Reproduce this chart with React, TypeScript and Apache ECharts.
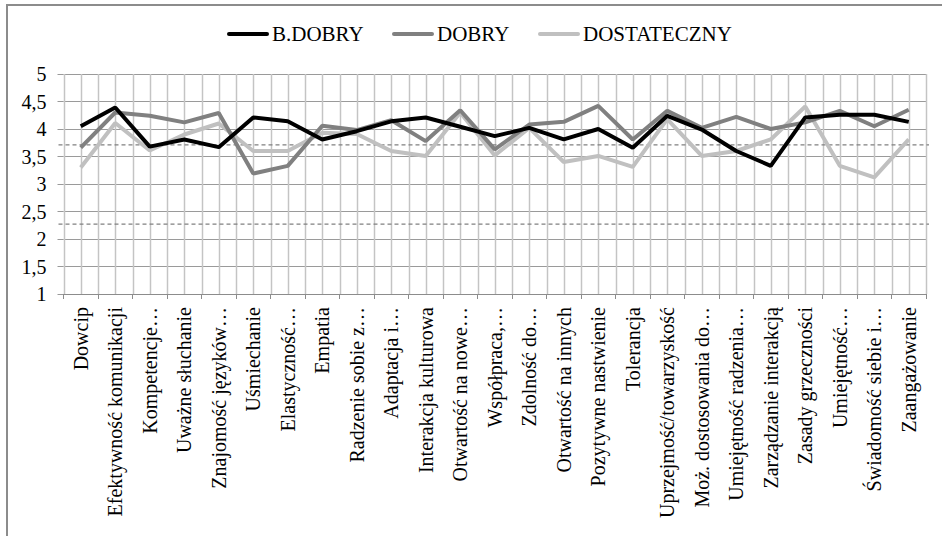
import React, { useEffect, useRef } from "react";
import * as echarts from "echarts";

const categories = [
  "Dowcip",
  "Efektywność komunikacji",
  "Kompetencje…",
  "Uważne słuchanie",
  "Znajomość języków…",
  "Uśmiechanie",
  "Elastyczność…",
  "Empatia",
  "Radzenie sobie z…",
  "Adaptacja i…",
  "Interakcja kulturowa",
  "Otwartość na nowe…",
  "Współpraca,…",
  "Zdolność do…",
  "Otwartość na innych",
  "Pozytywne nastwienie",
  "Tolerancja",
  "Uprzejmość/towarzyskość",
  "Moż. dostosowania do…",
  "Umiejętność radzenia…",
  "Zarządzanie interakcją",
  "Zasady grzeczności",
  "Umiejętność…",
  "Świadomość siebie i…",
  "Zaangażowanie",
];

const bDobry = [4.05, 4.39, 3.68, 3.81, 3.67, 4.21, 4.14, 3.81, 3.96, 4.14, 4.21, 4.04, 3.87, 4.02, 3.81, 4.0, 3.66, 4.24, 3.99, 3.6, 3.33, 4.21, 4.26, 4.26, 4.13];
const dobry = [3.66, 4.3, 4.24, 4.12, 4.29, 3.19, 3.33, 4.06, 3.98, 4.16, 3.78, 4.34, 3.63, 4.08, 4.13, 4.42, 3.81, 4.33, 4.02, 4.22, 4.0, 4.12, 4.33, 4.05, 4.35];
const dostateczny = [3.3, 4.11, 3.61, 3.9, 4.1, 3.6, 3.6, 3.93, 3.91, 3.6, 3.51, 4.3, 3.52, 4.02, 3.4, 3.51, 3.31, 4.18, 3.51, 3.6, 3.81, 4.41, 3.33, 3.12, 3.81];

const refLines = [3.71, 2.27];

const seriesNames = ["B.DOBRY", "DOBRY", "DOSTATECZNY"];
const seriesColors = ["#000000", "#808080", "#c0c0c0"];
const legendX = [227, 392, 538];

const FONT = "Liberation Serif";

export default function App() {
  const ref = useRef<HTMLDivElement>(null);
  useEffect(() => {
    if (!ref.current) return;
    const chart = echarts.init(ref.current, null, { renderer: "svg" });
    const dataSets = [bDobry, dobry, dostateczny];
    chart.setOption({
      animation: false,
      grid: { left: 63.5, right: 16, top: 74, bottom: 242 },
      xAxis: {
        type: "category",
        data: categories,
        boundaryGap: true,
        axisLine: { show: true, lineStyle: { color: "#8c8c8c", width: 1 } },
        axisTick: { show: true, length: 5, interval: 0, lineStyle: { color: "#8c8c8c" } },
        axisLabel: {
          interval: 0,
          rotate: 90,
          margin: 13,
          fontFamily: FONT,
          fontSize: 20,
          color: "#000",
        },
        splitLine: { show: false },
      },
      yAxis: {
        type: "value",
        min: 1,
        max: 5,
        interval: 0.5,
        axisLine: { show: false },
        axisTick: { show: true, length: 6, lineStyle: { color: "#9a9a9a" } },
        axisLabel: {
          margin: 17,
          fontFamily: FONT,
          fontSize: 20,
          color: "#000",
          formatter: (v: number) => String(v).replace(".", ","),
        },
        splitLine: { show: true, lineStyle: { color: "#9a9a9a", width: 1.2 } },
      },
      series: seriesNames.map((name, i) => ({
        name,
        type: "line",
        data: dataSets[i],
        symbol: "none",
        lineStyle: { color: seriesColors[i], width: 4 },
        itemStyle: { color: seriesColors[i] },
        z: 10 - i,
      })),
    });

    // gridlines, reference lines and legend drawn from the library's own scales
    const centres = categories.map((_, i) => chart.convertToPixel({ xAxisIndex: 0 }, i) as number);
    const band = centres.length > 1 ? centres[1] - centres[0] : 34.5;
    const yTop = chart.convertToPixel({ yAxisIndex: 0 }, 5) as number;
    const yBottom = chart.convertToPixel({ yAxisIndex: 0 }, 1) as number;
    const xs: number[] = [];
    centres.forEach((c, i) => {
      if (i === 0) xs.push(c - band / 2);
      xs.push(c);
      xs.push(c + band / 2);
    });
    const graphics: any[] = [];
    xs.forEach((x) => {
      graphics.push({
        type: "line",
        silent: true,
        z: 1,
        shape: { x1: Math.round(x) + 0.5, y1: yTop, x2: Math.round(x) + 0.5, y2: yBottom },
        style: { stroke: "#c4c4c4", lineWidth: 1.5 },
      });
    });
    const xLeft = centres[0] - band / 2;
    const xRight = centres[centres.length - 1] + band / 2;
    refLines.forEach((v) => {
      const y = chart.convertToPixel({ yAxisIndex: 0 }, v) as number;
      graphics.push({
        type: "line",
        silent: true,
        z: 5,
        shape: { x1: xLeft - 5, y1: y, x2: xRight + 3, y2: y },
        style: { stroke: "#808080", lineWidth: 1.2, lineDash: [4, 3] },
      });
    });
    seriesNames.forEach((name, i) => {
      graphics.push({
        type: "rect",
        silent: true,
        shape: { x: legendX[i], y: 32, width: 42, height: 4, r: 2 },
        style: { fill: seriesColors[i] },
      });
      graphics.push({
        type: "text",
        silent: true,
        x: legendX[i] + 45,
        y: 34,
        style: {
          text: name,
          fontFamily: FONT,
          fontSize: 21,
          fill: "#000",
          verticalAlign: "middle",
          align: "left",
        },
      });
    });
    chart.setOption({ graphic: graphics });
    return () => chart.dispose();
  }, []);
  return (
    <div>
      <div
        style={{
          position: "absolute",
          left: 6,
          top: 4,
          width: 936,
          height: 532,
          borderLeft: "2px solid #8c8c8c",
          borderTop: "2px solid #8c8c8c",
          boxSizing: "border-box",
        }}
      />
      <div
        ref={ref}
        style={{ position: "absolute", left: 0, top: 0, width: 942, height: 536 }}
      />
    </div>
  );
}
